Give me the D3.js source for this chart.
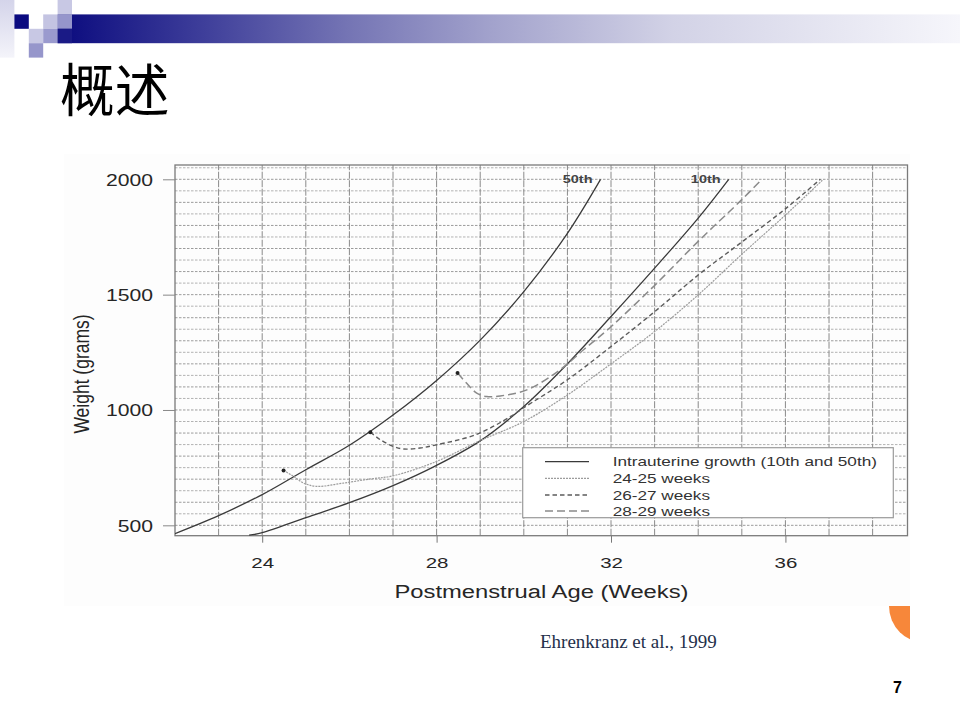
<!DOCTYPE html>
<html><head><meta charset="utf-8">
<script src="https://cdn.jsdelivr.net/npm/d3@7"></script>
<style>body{margin:0;background:#fff;} svg{display:block;}</style>
</head><body><svg id="c" width="960" height="720"></svg>
<script>
// ---------- data ----------
const titleText = "概述";
const xTicks = [24, 28, 32, 36];
const yTicks = [500, 1000, 1500, 2000];

const weeks50 = [22, 23, 24, 25, 26, 27, 28, 29, 30, 31, 31.76];
const grams50 = [464, 542, 633, 741, 847, 978, 1128, 1303, 1513, 1766, 2000];

const weeks10 = [23.7, 24, 25, 26, 27, 28, 29, 30, 31, 32, 33, 34, 34.7];
const grams10 = [457, 468, 533, 598, 672, 760, 866, 1015, 1200, 1405, 1615, 1832, 2000];

const weeks2425 = [24.49, 24.72, 24.95, 25.25, 25.86, 26.48, 27.01, 28, 28.96, 30, 31, 32, 33, 34, 35, 36, 36.87];
const grams2425 = [738, 712, 683, 669, 683, 701, 715, 777, 864, 950, 1065, 1200, 1340, 1499, 1675, 1845, 2000];

const weeks2627 = [26.48, 26.71, 27.01, 27.24, 27.62, 28, 28.9, 29.7, 30, 31, 32, 33, 34, 35, 36, 36.8];
const grams2627 = [904, 871, 842, 831, 835, 849, 893, 972, 1010, 1131, 1275, 1426, 1585, 1728, 1872, 2000];

const weeks2829 = [28.48, 28.69, 28.92, 29.15, 29.46, 30.07, 30.83, 31.37, 32, 33, 34, 35, 35.46];
const grams2829 = [1160, 1116, 1073, 1058, 1061, 1087, 1174, 1261, 1361, 1540, 1731, 1912, 2000];

const legendLabels = ["Intrauterine growth (10th and 50th)", "24-25 weeks", "26-27 weeks", "28-29 weeks"];
const percentileLabels = ["50th", "10th"];
const xLabel = "Postmenstrual Age (Weeks)";
const yLabel = "Weight (grams)";
const citation = "Ehrenkranz et al., 1999";
const pageNumber = "7";

// ---------- drawing ----------
const svg = d3.select("#c");
const SANS = "'Liberation Sans', Arial, sans-serif";
const TXT = "#262626";
const STRETCH = 1.32;
function stretch(sel, f) {
  sel.each(function () {
    const w = this.getComputedTextLength();
    d3.select(this).attr("textLength", w * f).attr("lengthAdjust", "spacingAndGlyphs");
  });
}

const defs = svg.append("defs");
const grad = defs.append("linearGradient").attr("id", "band")
  .attr("gradientUnits", "userSpaceOnUse").attr("x1", 58).attr("x2", 960).attr("y1", 0).attr("y2", 0);
[[0, "#0a0a7e"], [0.16, "#3e3e9a"], [0.32, "#7474b4"], [0.48, "#a2a2cc"], [0.68, "#d2d2e6"], [1, "#f6f6fb"]]
  .forEach(s => grad.append("stop").attr("offset", s[0]).attr("stop-color", s[1]));
const lgrad = defs.append("linearGradient").attr("id", "strip").attr("x1", 0).attr("x2", 0).attr("y1", 0).attr("y2", 1);
lgrad.append("stop").attr("offset", 0).attr("stop-color", "#d4d4ea");
lgrad.append("stop").attr("offset", 1).attr("stop-color", "#f4f4fa");

// header decoration
const u = 14.4;
svg.append("rect").attr("x", 0).attr("y", 0).attr("width", u).attr("height", 4 * u).attr("fill", "url(#strip)");
svg.append("rect").attr("x", 4 * u).attr("y", u).attr("width", 960 - 4 * u).attr("height", 2 * u).attr("fill", "url(#band)");
const squares = [
  [1, 1, "#0a0a80"], [3, 1, "#c4c4e2"], [4, 0, "#c8c8e4"], [4, 1, "#9595cb"],
  [2, 2, "#c8c8e4"], [3, 2, "#9a9ace"], [4, 2, "#1a1a86"], [2, 3, "#9696cb"]
];
svg.selectAll("rect.sq").data(squares).join("rect").attr("class", "sq")
  .attr("x", d => d[0] * u).attr("y", d => d[1] * u).attr("width", u).attr("height", u).attr("fill", d => d[2]);

// title
svg.append("text").attr("x", 60).attr("y", 111).text(titleText)
  .attr("font-family", "'Noto Sans CJK SC', sans-serif").attr("font-size", 57).attr("fill", "#000")
  .attr("transform", "translate(60,111) scale(0.96,1) translate(-60,-111)");

// orange ornament
defs.append("clipPath").attr("id", "orClip").append("rect").attr("x", 850).attr("y", 606).attr("width", 60).attr("height", 60);
svg.append("circle").attr("cx", 926).attr("cy", 606).attr("r", 37).attr("fill", "#f7873a").attr("clip-path", "url(#orClip)");

// chart picture background
svg.append("rect").attr("x", 64).attr("y", 154).attr("width", 846).attr("height", 452).attr("fill", "#fdfdfd");

const x = d3.scaleLinear().domain([22, 38.8]).range([175, 907.5]);
const y = d3.scaleLinear().domain([455, 2062]).range([535.7, 165]);
const [X0, X1] = x.range();
const [Y0, Y1] = y.range();

defs.append("clipPath").attr("id", "plotClip").append("rect")
  .attr("x", X0).attr("y", Y1).attr("width", X1 - X0).attr("height", Y0 - Y1);

const g = svg.append("g");
// horizontal grid
g.selectAll("line.hg").data(d3.range(500, 2051, 50)).join("line").attr("class", "hg")
  .attr("x1", X0).attr("x2", X1).attr("y1", d => y(d)).attr("y2", d => y(d))
  .attr("stroke", d => d % 100 === 0 ? "#9c9c9c" : "#b2b2b2").attr("stroke-width", 1).attr("stroke-dasharray", "2.5,1.5");
// vertical grid
g.selectAll("line.vg").data(d3.range(23, 39)).join("line").attr("class", "vg")
  .attr("y1", Y0).attr("y2", Y1).attr("x1", d => x(d)).attr("x2", d => x(d))
  .attr("stroke", "#8a8a8a").attr("stroke-width", 1).attr("stroke-dasharray", "7,1.5");
// frame
g.append("rect").attr("x", X0).attr("y", Y1).attr("width", X1 - X0).attr("height", Y0 - Y1)
  .attr("fill", "none").attr("stroke", "#7a7a7a").attr("stroke-width", 1.3);

// axes
const yAxis = g.append("g").attr("transform", `translate(${X0},0)`)
  .call(d3.axisLeft(y).tickValues(yTicks).tickSize(12).tickPadding(10).tickFormat(d3.format("d")));
yAxis.select(".domain").remove();
yAxis.selectAll("line").attr("stroke", "#888");
yAxis.selectAll("text").attr("font-family", SANS).attr("font-size", 16).attr("fill", TXT).attr("dy", "0.36em");
stretch(yAxis.selectAll("text"), STRETCH);

const xAxis = g.append("g").attr("transform", `translate(0,${Y0})`)
  .call(d3.axisBottom(x).tickValues(xTicks).tickSize(7).tickPadding(14).tickFormat(d3.format("d")));
xAxis.select(".domain").remove();
xAxis.selectAll("line").attr("stroke", "#777");
xAxis.selectAll("text").attr("font-family", SANS).attr("font-size", 15.5).attr("fill", TXT);
stretch(xAxis.selectAll("text"), STRETCH);

// axis titles
const xt = svg.append("text").attr("x", 541.5).attr("y", 598).attr("text-anchor", "middle")
  .attr("font-family", SANS).attr("font-size", 18).attr("fill", TXT).text(xLabel);
stretch(xt, STRETCH);
svg.append("text").attr("transform", "translate(89,374) scale(1.3,1) rotate(-90)").attr("text-anchor", "middle")
  .attr("font-family", SANS).attr("font-size", 17.5).attr("fill", TXT).text(yLabel);

// series
const styles = {
  solid: { stroke: "#3a3a3a", width: 1.3, dash: null },
  s2425: { stroke: "#9c9c9c", width: 1.2, dash: "2,1" },
  s2627: { stroke: "#5c5c5c", width: 1.4, dash: "4.5,3" },
  s2829: { stroke: "#8a8a8a", width: 1.5, dash: "8,4" }
};
const series = [
  { w: weeks50, v: grams50, s: styles.solid },
  { w: weeks10, v: grams10, s: styles.solid },
  { w: weeks2425, v: grams2425, s: styles.s2425, dot: true },
  { w: weeks2627, v: grams2627, s: styles.s2627, dot: true },
  { w: weeks2829, v: grams2829, s: styles.s2829, dot: true }
];
const line = d3.line().x(d => x(d[0])).y(d => y(d[1])).curve(d3.curveCatmullRom.alpha(0.5));
const pg = g.append("g").attr("clip-path", "url(#plotClip)");
series.forEach(sr => {
  const pts = d3.zip(sr.w, sr.v);
  pg.append("path").attr("d", line(pts)).attr("fill", "none")
    .attr("stroke", sr.s.stroke).attr("stroke-width", sr.s.width)
    .attr("stroke-dasharray", sr.s.dash);
  if (sr.dot) {
    pg.append("circle").attr("cx", x(pts[0][0])).attr("cy", y(pts[0][1])).attr("r", 2).attr("fill", "#222");
  }
});

// percentile labels at the ends of the two reference curves
[[weeks50, grams50], [weeks10, grams10]].forEach((p, i) => {
  const t = g.append("text").attr("x", x(p[0][p[0].length - 1]) - 8).attr("y", y(p[1][p[1].length - 1]) + 4)
    .attr("text-anchor", "end").attr("font-family", SANS).attr("font-size", 11).attr("font-weight", "bold")
    .attr("fill", "#444").text(percentileLabels[i]);
  stretch(t, STRETCH);
});

// legend
const lg = g.append("g");
lg.append("rect").attr("x", 522.7).attr("y", 447.7).attr("width", 370.6).attr("height", 70)
  .attr("fill", "#fff").attr("stroke", "#9a9a9a").attr("stroke-width", 1.2);
const legStyles = [styles.solid, styles.s2425, styles.s2627, styles.s2829];
const rowY = [461.7, 478.3, 495, 511];
legendLabels.forEach((lab, i) => {
  const st = legStyles[i];
  lg.append("line").attr("x1", 545).attr("x2", 589).attr("y1", rowY[i]).attr("y2", rowY[i])
    .attr("stroke", st.stroke).attr("stroke-width", st.width).attr("stroke-dasharray", st.dash);
  const t = lg.append("text").attr("x", 612.7).attr("y", rowY[i] + 4.6)
    .attr("font-family", SANS).attr("font-size", 13).attr("fill", "#333").text(lab);
  stretch(t, STRETCH);
});

// citation & page number
svg.append("text").attr("x", 540).attr("y", 648).attr("font-family", "'Liberation Serif', 'Times New Roman', serif")
  .attr("font-size", 19).attr("fill", "#24304a").text(citation);
svg.append("text").attr("x", 902).attr("y", 693).attr("text-anchor", "end").attr("font-family", SANS)
  .attr("font-size", 16).attr("font-weight", "bold").attr("fill", "#000").text(pageNumber);
</script></body></html>
